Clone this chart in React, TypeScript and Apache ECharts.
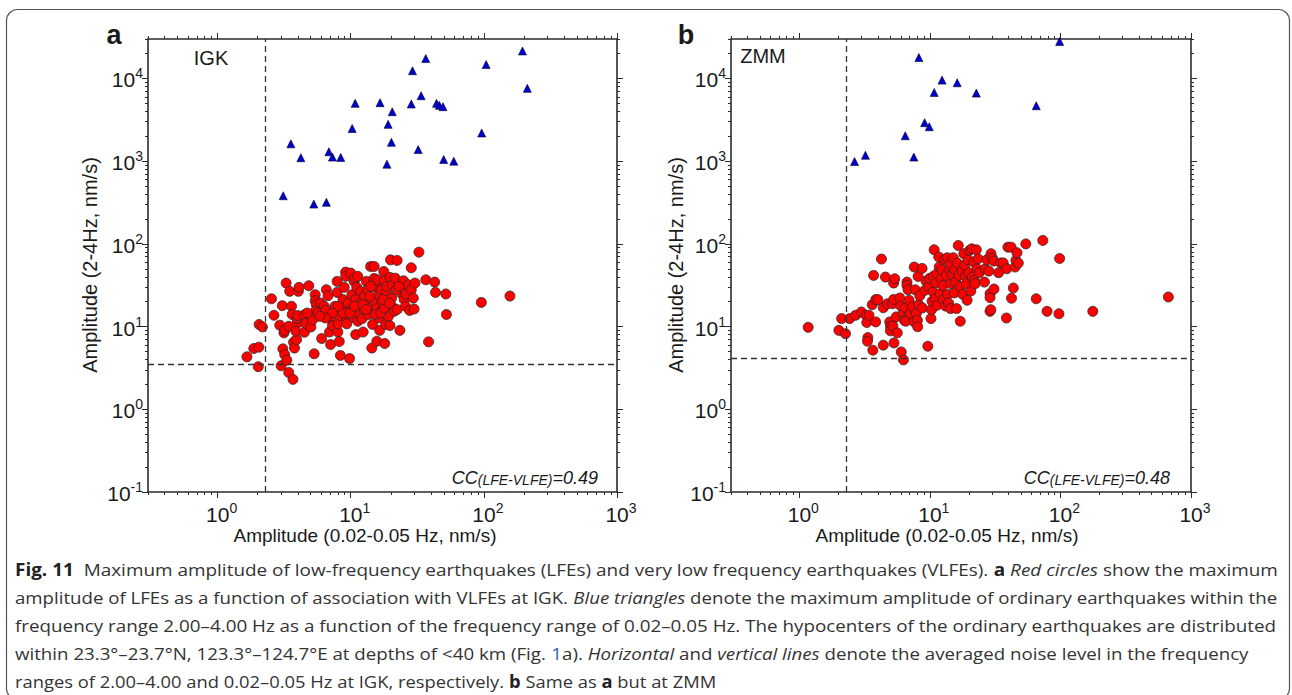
import React, { useEffect, useRef } from "react";
import * as echarts from "echarts";

// ---------- axis ranges & ticks ----------
const X_MIN = 0.3;
const X_MAX = 1000;
const Y_MIN = 0.1;
const Y_MAX = 30000;
const xMajorTicks = [1, 10, 100, 1000];
const xMinorTicks = [0.3, 0.4, 0.5, 0.6, 0.7, 0.8, 0.9, 2, 3, 4, 5, 6, 7, 8, 9, 20, 30, 40, 50, 60, 70, 80, 90, 200, 300, 400, 500, 600, 700, 800, 900];
const yMajorTicks = [0.1, 1, 10, 100, 1000, 10000];
const yMinorTicks = [0.2, 0.3, 0.4, 0.5, 0.6, 0.7, 0.8, 0.9, 2, 3, 4, 5, 6, 7, 8, 9, 20, 30, 40, 50, 60, 70, 80, 90, 200, 300, 400, 500, 600, 700, 800, 900, 2000, 3000, 4000, 5000, 6000, 7000, 8000, 9000, 20000, 30000];

// ---------- noise levels [x (0.02-0.05 Hz), y (2-4 Hz)] ----------
const igkNoise = [2.28, 3.55];
const zmmNoise = [2.28, 4.16];

// ---------- ordinary earthquakes (blue triangles) ----------
const igkEQ = [
  [195, 21500], [36.6, 17400], [104, 14700], [29.1, 12400], [212, 7590], [33.8, 6180], [10.8, 5000],
  [16.6, 5090], [28.5, 4910], [44.1, 5000], [46.3, 4730], [49.3, 4560], [20.5, 3960], [19.1, 2790],
  [10.25, 2480], [96.3, 2190], [20.2, 1690], [3.55, 1620], [32.1, 1380], [6.85, 1300], [7.29, 1120],
  [8.41, 1110], [4.22, 1100], [49.9, 1050], [59.4, 1000], [18.7, 920], [3.11, 382], [5.28, 303], [6.56, 318],
];
const zmmEQ = [
  [98.6, 28000], [8.24, 17900], [12.4, 9550], [16.2, 8870], [10.8, 6780], [22.7, 6650], [65.3, 4680],
  [9.12, 2920], [9.9, 2610], [6.48, 2030], [7.54, 1120], [3.21, 1180], [2.65, 990],
];

// ---------- LFEs (red circles) ----------
const igkLFE = [
  [1.66, 4.31], [1.87, 5.43], [2.04, 5.64], [2.02, 3.27], [2.05, 10.6], [2.17, 9.9], [2.54, 21.7], [2.65, 13.7],
  [2.93, 10.4], [3.06, 17.9], [3.09, 5.38], [3.19, 4.6], [3.0, 3.36], [3.15, 8.4], [3.19, 9.0], [3.27, 33.6],
  [3.31, 3.93], [3.42, 2.79], [3.68, 2.3], [3.48, 26.7], [3.59, 17.6], [3.63, 14.0], [3.42, 10.1], [3.72, 6.47],
  [3.78, 5.5], [3.92, 6.97], [3.96, 10.9], [3.96, 12.5], [4.04, 26.7], [4.09, 29.8], [4.0, 13.6], [3.87, 8.8],
  [4.49, 8.55], [4.49, 13.9], [4.6, 10.9], [4.84, 31.2], [5.02, 9.9], [5.17, 12.1], [5.31, 4.69], [5.41, 24.3],
  [5.41, 20.6], [5.51, 18.4], [5.41, 15.3], [5.67, 14.6], [5.94, 19.3], [6.05, 7.17], [6.32, 17.6], [6.56, 27.9],
  [6.48, 15.7], [6.75, 23.6], [6.93, 8.6], [7.06, 12.5], [7.06, 6.07], [7.29, 10.3], [7.61, 17.6], [8.0, 8.6],
  [7.9, 35.2], [7.9, 25.9], [8.04, 10.8], [8.2, 6.6], [8.36, 13.6], [8.78, 17.9], [8.75, 21.2], [8.36, 4.48],
  [8.94, 29.8], [9.16, 45.6], [9.16, 40.5], [9.33, 12.5], [9.33, 10.8], [9.5, 14.9], [9.6, 19.3], [9.8, 4.11],
  [10.0, 44.3], [10.2, 24.3], [10.3, 16.1], [10.5, 12.9], [10.6, 35.2], [10.7, 38.5], [10.9, 8.0], [10.9, 21.2],
  [11.1, 29.8], [11.3, 40.5], [11.3, 11.6], [11.4, 17.3], [11.5, 14.6], [11.8, 18.9], [11.9, 26.6], [12.2, 12.5],
  [12.4, 8.6], [12.6, 16.1], [12.7, 23.2], [13.1, 35.2], [13.4, 27.9], [13.6, 14.0], [13.7, 18.4], [14.1, 53.3],
  [14.4, 17.3], [14.4, 5.5], [14.6, 10.6], [15.0, 53.3], [15.0, 38.2], [15.2, 20.2], [15.5, 29.8], [15.7, 16.5],
  [15.7, 6.65], [15.9, 36.8], [16.3, 12.7], [16.3, 24.3], [16.5, 9.0], [16.9, 27.9], [17.2, 20.2], [17.4, 16.0],
  [17.7, 46.4], [17.8, 35.8], [18.0, 6.24], [18.3, 10.6], [18.5, 25.4], [18.5, 19.2], [18.7, 30.6], [19.2, 13.3],
  [19.7, 39.3], [19.7, 10.3], [19.9, 64.1], [20.3, 22.1], [20.4, 17.6], [20.6, 32.0], [21.2, 15.3], [21.6, 38.5],
  [22.3, 63.1], [22.3, 16.1], [23.4, 9.0], [24.2, 25.0], [24.4, 28.4], [24.9, 35.8], [25.2, 21.2], [25.8, 17.6],
  [26.0, 24.8], [27.2, 32.0], [27.7, 15.7], [28.5, 51.4], [28.5, 27.9], [29.5, 22.1], [29.9, 16.3], [30.4, 33.6],
  [32.5, 79.4], [36.6, 36.8], [38.4, 6.54], [42.7, 34.5], [43.3, 25.9], [51.8, 24.8], [52.3, 14.0], [95.7, 19.6],
  [157, 23.4], [8.78, 14.6], [9.9, 14.6], [10.7, 17.6], [12.4, 18.4], [13.1, 16.1], [13.9, 23.2], [14.2, 30.6],
  [15.3, 14.0], [16.8, 14.6], [17.9, 16.8], [17.6, 21.2], [19.5, 19.2], [22.0, 27.9], [23.0, 30.6], [8.04, 17.6],
  [7.29, 14.6], [6.44, 12.7], [5.86, 13.3], [4.71, 14.6],
];
const zmmLFE = [
  [1.17, 9.8], [2.01, 9.0], [2.11, 12.5], [2.26, 8.2], [2.43, 12.5], [2.7, 13.7], [2.99, 15.0], [3.25, 13.7],
  [3.29, 11.2], [3.35, 7.36], [3.33, 6.65], [3.42, 13.7], [3.62, 18.4], [3.66, 5.18], [3.71, 41.6], [3.85, 11.4],
  [3.85, 21.2], [4.0, 21.2], [4.26, 65.6], [4.4, 5.96], [4.4, 16.9], [4.57, 39.7], [4.74, 18.9], [4.93, 11.4],
  [4.99, 10.1], [4.99, 8.9], [5.18, 18.9], [5.21, 10.2], [5.28, 21.3], [5.28, 33.6], [5.31, 6.35], [5.38, 37.9],
  [5.53, 13.1], [5.63, 8.4], [5.89, 22.2], [6.0, 17.7], [6.04, 4.94], [6.28, 3.96], [6.25, 14.4], [6.4, 11.9],
  [6.52, 16.9], [6.52, 11.6], [6.68, 34.5], [6.68, 31.5], [6.81, 27.9], [6.94, 20.8], [7.07, 14.4], [7.4, 17.3],
  [7.59, 52.5], [7.59, 11.4], [7.74, 27.9], [7.88, 14.4], [8.03, 11.9], [8.07, 9.95], [8.13, 40.4], [8.22, 18.4],
  [8.38, 23.6], [8.72, 50.5], [8.77, 16.8], [9.15, 27.4], [9.34, 35.5], [9.65, 5.79], [9.83, 30.6], [9.96, 38.3],
  [10.2, 12.5], [10.3, 16.0], [10.4, 20.2], [10.6, 26.2], [10.6, 40.4], [10.8, 84.9], [11.0, 21.7], [11.1, 33.7],
  [11.3, 43.5], [11.4, 18.1], [11.7, 69.4], [11.8, 52.5], [12.0, 25.0], [12.2, 38.0], [12.4, 48.7], [12.6, 31.5],
  [12.7, 21.2], [13.0, 65.1], [13.2, 17.7], [13.4, 41.6], [13.6, 68.0], [13.7, 24.5], [13.9, 19.3], [14.1, 50.0],
  [14.3, 57.5], [14.4, 16.5], [14.5, 33.0], [14.8, 42.4], [15.1, 68.0], [15.4, 25.5], [15.5, 48.7], [15.7, 34.6],
  [16.0, 16.5], [16.2, 58.6], [16.5, 95.7], [16.7, 41.6], [17.1, 11.6], [17.1, 30.6], [17.6, 46.9], [17.9, 24.5],
  [18.2, 76.1], [18.5, 55.0], [18.7, 40.5], [19.0, 33.0], [19.3, 20.8], [19.6, 64.4], [19.9, 44.8], [20.2, 83.4],
  [20.6, 26.9], [20.9, 87.3], [21.2, 39.7], [21.7, 60.2], [21.9, 36.2], [22.2, 33.0], [22.7, 84.9], [23.0, 50.0],
  [23.4, 66.1], [23.9, 44.8], [26.2, 34.5], [26.6, 50.0], [27.4, 64.4], [28.3, 46.9], [28.9, 25.0], [28.9, 22.4],
  [28.9, 15.3], [29.3, 16.0], [29.4, 76.1], [30.1, 67.3], [30.9, 62.0], [31.0, 28.5], [33.6, 44.8], [34.9, 58.8],
  [36.5, 58.8], [38.6, 12.7], [38.8, 50.0], [39.6, 91.3], [41.9, 91.3], [42.2, 22.0], [43.6, 29.3], [45.0, 52.5],
  [45.6, 63.1], [46.5, 78.2], [47.6, 58.6], [54.3, 100], [65.3, 21.7], [73.3, 110], [79.0, 15.3], [97.4, 14.3],
  [98.6, 66.6], [177, 15.3], [671, 22.8],
];

// ---------- texts ----------
const xTitle = "Amplitude (0.02-0.05 Hz, nm/s)";
const yTitle = "Amplitude (2-4Hz, nm/s)";
const ccIGK = "0.49";
const ccZMM = "0.48";

type Seg = [string, string];
const captionLines: Seg[][] = [
  [["b", "Fig. 11"], ["n", "  Maximum amplitude of low-frequency earthquakes (LFEs) and very low frequency earthquakes (VLFEs). "], ["b", "a"], ["n", " "], ["i", "Red circles"], ["n", " show the maximum"]],
  [["n", "amplitude of LFEs as a function of association with VLFEs at IGK. "], ["i", "Blue triangles"], ["n", " denote the maximum amplitude of ordinary earthquakes within the"]],
  [["n", "frequency range 2.00–4.00 Hz as a function of the frequency range of 0.02–0.05 Hz. The hypocenters of the ordinary earthquakes are distributed"]],
  [["n", "within 23.3°–23.7°N, 123.3°–124.7°E at depths of <40 km (Fig. "], ["l", "1"], ["n", "a). "], ["i", "Horizontal"], ["n", " and "], ["i", "vertical lines"], ["n", " denote the averaged noise level in the frequency"]],
  [["n", "ranges of 2.00–4.00 and 0.02–0.05 Hz at IGK, respectively. "], ["b", "b"], ["n", " Same as "], ["b", "a"], ["n", " but at ZMM"]],
];
// rendered width of each caption line in the reference (px)
const captionWidths = [1263, 1263, 1262, 1234, 701];

const FONT = "Liberation Sans";
const CAP_FONT = "Open Sans";
const CAP_SIZE = 17;
const AX = "#2b2b2b";

const CAP_STYLE: Record<string, { w: string; s: string; c: string }> = {
  n: { w: "normal", s: "normal", c: "#333333" },
  b: { w: "bold", s: "normal", c: "#222222" },
  i: { w: "normal", s: "italic", c: "#333333" },
  l: { w: "normal", s: "normal", c: "#2d5fb8" },
};

function measureLine(line: Seg[]) {
  const ctx = document.createElement("canvas").getContext("2d");
  if (!ctx) return 1263;
  let w = 0;
  for (const [k, t] of line) {
    const st = CAP_STYLE[k];
    ctx.font = `${st.s} ${st.w} ${CAP_SIZE}px "${CAP_FONT}"`;
    w += ctx.measureText(t).width;
  }
  return w;
}

function powLabel(v: number) {
  const e = Math.round(Math.log10(v));
  return `{b|10}{s|${e}}`;
}

const richLab = {
  b: { fontFamily: FONT, fontSize: 21, color: "#1a1a1a", lineHeight: 24, verticalAlign: "bottom" },
  s: { fontFamily: FONT, fontSize: 14, color: "#1a1a1a", lineHeight: 14, verticalAlign: "top" },
};

function xAxisSet(grid: number) {
  const base = {
    type: "log", logBase: 10, min: X_MIN, max: X_MAX, gridIndex: grid,
    splitLine: { show: false }, minorTick: { show: false }, minorSplitLine: { show: false },
  };
  const line = { show: true, onZero: false, lineStyle: { color: AX, width: 1.6 } };
  const majTick = { show: true, inside: false, length: 6, customValues: xMajorTicks, lineStyle: { color: AX, width: 1 } };
  const minTick = { ...majTick, length: 3, customValues: xMinorTicks };
  return [
    { ...base, position: "bottom", axisLine: line, axisTick: majTick,
      axisLabel: { show: true, customValues: xMajorTicks, formatter: powLabel, margin: 9, padding: [0, 0, 0, 8], rich: richLab } },
    { ...base, position: "bottom", axisLine: { show: false }, axisTick: minTick, axisLabel: { show: false } },
    { ...base, position: "top", axisLine: line, axisTick: majTick, axisLabel: { show: false } },
    { ...base, position: "top", axisLine: { show: false }, axisTick: minTick, axisLabel: { show: false } },
  ];
}

function yAxisSet(grid: number) {
  const base = {
    type: "log", logBase: 10, min: Y_MIN, max: Y_MAX, gridIndex: grid,
    splitLine: { show: false }, minorTick: { show: false }, minorSplitLine: { show: false },
  };
  const line = { show: true, onZero: false, lineStyle: { color: AX, width: 1.6 } };
  const majTick = { show: true, inside: false, length: 6, customValues: yMajorTicks, lineStyle: { color: AX, width: 1 } };
  const minTick = { ...majTick, length: 3, customValues: yMinorTicks };
  return [
    { ...base, position: "left", axisLine: line, axisTick: majTick,
      axisLabel: { show: true, customValues: yMajorTicks, formatter: powLabel, margin: 5, rich: richLab } },
    { ...base, position: "left", axisLine: { show: false }, axisTick: minTick, axisLabel: { show: false } },
    { ...base, position: "right", axisLine: line, axisTick: majTick, axisLabel: { show: false } },
    { ...base, position: "right", axisLine: { show: false }, axisTick: minTick, axisLabel: { show: false } },
  ];
}

function panelSeries(axisIdx: number, lfe: number[][], eq: number[][], noise: number[]) {
  return [
    {
      type: "scatter", xAxisIndex: axisIdx, yAxisIndex: axisIdx, data: lfe,
      symbol: "circle", symbolSize: 10, z: 3,
      itemStyle: { color: "#ff0000", borderColor: "#2a2a2a", borderWidth: 0.8, opacity: 1 },
      markLine: {
        silent: true, symbol: ["none", "none"], label: { show: false }, animation: false,
        lineStyle: { type: [6, 4], color: "#333", width: 1.3 },
        emphasis: { disabled: true },
        data: [{ xAxis: noise[0] }, { yAxis: noise[1] }],
      },
    },
    {
      type: "scatter", xAxisIndex: axisIdx, yAxisIndex: axisIdx, data: eq,
      symbol: "triangle", symbolSize: 8, z: 4,
      itemStyle: { color: "#0000cc", borderColor: "#00002a", borderWidth: 0.6, opacity: 1 },
    },
  ];
}

function ccText(x: number, y: number, val: string) {
  const it = { fontFamily: FONT, fontStyle: "italic", fontSize: 18, fill: "#1a1a1a", lineHeight: 20, verticalAlign: "bottom" };
  return {
    type: "text", x, y, z: 10,
    style: {
      text: `{c|CC}{s|(LFE-VLFE)}{c|=${val}}`,
      rich: { c: it, s: { ...it, fontSize: 14, lineHeight: 12 } },
      align: "right", verticalAlign: "middle", textAlign: "right", textVerticalAlign: "middle",
      fontFamily: FONT, fontSize: 18, fill: "#1a1a1a",
    },
  };
}

function plainText(x: number, y: number, text: string, size: number, weight = "normal", rotation = 0, align = "center") {
  return {
    type: "text", x, y, rotation, z: 10,
    style: {
      text, fontFamily: FONT, fontSize: size, fontWeight: weight, fill: "#1a1a1a",
      align, verticalAlign: "middle", textAlign: align, textVerticalAlign: "middle",
    },
  };
}

export default function App() {
  const ref = useRef<HTMLDivElement>(null);
  useEffect(() => {
    if (!ref.current) return;
    const chart = echarts.init(ref.current, undefined, { renderer: "svg" });

    const capRich: Record<string, any> = {};
    for (const k of Object.keys(CAP_STYLE)) {
      const st = CAP_STYLE[k];
      capRich[k] = { fontFamily: CAP_FONT, fontSize: CAP_SIZE, fontWeight: st.w, fontStyle: st.s, fill: st.c };
    }
    const captionEls = captionLines.map((line, i) => ({
      type: "text", x: 15, y: 569 + i * 28, scaleX: captionWidths[i] / measureLine(line), z: 10,
      style: {
        text: line.map(([k, t]) => `{${k}|${t}}`).join(""),
        rich: capRich, fontFamily: CAP_FONT, fontSize: CAP_SIZE, fill: "#333",
        align: "left", verticalAlign: "middle", textAlign: "left", textVerticalAlign: "middle",
      },
    }));

    chart.setOption({
      animation: false,
      backgroundColor: "#ffffff",
      grid: [
        { left: 148, top: 39, width: 469, height: 453, containLabel: false, outerBoundsMode: "none" },
        { left: 731, top: 39, width: 460, height: 453, containLabel: false, outerBoundsMode: "none" },
      ],
      xAxis: [...xAxisSet(0), ...xAxisSet(1)],
      yAxis: [...yAxisSet(0), ...yAxisSet(1)],
      series: [...panelSeries(0, igkLFE, igkEQ, igkNoise), ...panelSeries(4, zmmLFE, zmmEQ, zmmNoise)],
      graphic: [
        { type: "rect", shape: { x: 6.5, y: 9.5, width: 1283, height: 690, r: 11 }, style: { fill: "none", stroke: "#555", lineWidth: 1.2 }, z: 1 },
        plainText(114, 35, "a", 27, "bold"),
        plainText(686, 35, "b", 27, "bold"),
        plainText(211, 58, "IGK", 20),
        plainText(763, 56, "ZMM", 20),
        ccText(598, 477, ccIGK),
        ccText(1170, 477, ccZMM),
        plainText(365, 535, xTitle, 19),
        plainText(947, 535, xTitle, 19),
        plainText(90, 265, yTitle, 20, "normal", Math.PI / 2),
        plainText(676, 265, yTitle, 20, "normal", Math.PI / 2),
        ...captionEls,
      ],
    });
    return () => chart.dispose();
  }, []);
  return <div ref={ref} style={{ position: "absolute", left: 0, top: 0, width: 1292, height: 695 }} />;
}
